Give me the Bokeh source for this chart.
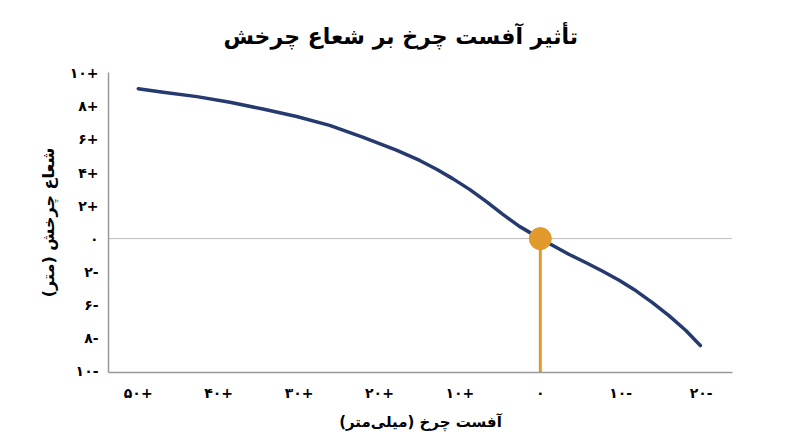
from bokeh.plotting import figure
from bokeh.models import Range1d, FixedTicker
from bokeh.embed import file_html
from bokeh.resources import INLINE

# wheel offset (mm) and turning radius (in tick-step units)
offsets = [50.0, 46.9, 42.7, 38.6, 34.5, 30.3, 26.2, 22.1, 17.9, 15.0, 12.9, 10.9,
           8.8, 6.7, 4.7, 2.6, 0.0, -1.5, -3.6, -5.7, -7.7, -9.8, -11.9, -13.9,
           -16.0, -18.1, -19.9]
radius = [9.07, 8.85, 8.59, 8.25, 7.84, 7.39, 6.85, 6.14, 5.35, 4.73, 4.20, 3.63,
          2.98, 2.24, 1.48, 0.74, 0.0, -0.40, -0.96, -1.46, -1.96, -2.52, -3.16, -3.86,
          -4.66, -5.56, -6.47]

marker_x = [0]
marker_y = [0]

x_ticks = [50, 40, 30, 20, 10, 0, -10, -20]
x_labels = ["۵۰+", "۴۰+", "۳۰+", "۲۰+", "۱۰+", "۰", "۱۰-", "۲۰-"]
y_ticks = [10, 8, 6, 4, 2, 0, -2, -4, -6, -8]
y_labels = ["۱۰+", "۸+", "۶+", "۴+", "۲+", "۰", "۲-", "۶-", "۸-", "۱۰-"]

title = "تأثیر آفست چرخ بر شعاع چرخش"
x_title = "\u200fآفست چرخ (میلی‌متر)\u200f"
y_title = "\u200fشعاع چرخش (متر)\u200f"

FONT = "DejaVu Sans"
NAVY = "#253a6e"
ORANGE = "#e0992a"

x0, x1 = 53.7, -23.9
p = figure(
    width=800, height=447,
    x_range=Range1d(x0, x1),
    y_range=Range1d(-8.1, 10.05),
    output_backend="svg", toolbar_location=None,
    title=title,
    min_border_left=108, min_border_right=68,
    min_border_top=72, min_border_bottom=75,
)
p.outline_line_color = None
p.grid.grid_line_color = None
p.background_fill_color = "white"

p.title.align = "left"
p.title.offset = 115
p.title.standoff = 44
p.title.vertical_align = "top"
p.title.text_font = FONT
p.title.text_font_size = "22px"
p.title.text_font_style = "bold"
p.title.text_color = "black"

# zero line
p.line([x0, x1], [0, 0], color="#bbbbbb", line_width=1)

p.line(offsets, radius, color=NAVY, line_width=3.5, line_cap="round", line_join="round")

p.segment(x0=marker_x, y0=marker_y, x1=marker_x, y1=[p.y_range.start] * len(marker_x),
          color=ORANGE, line_width=3)
p.scatter(marker_x, marker_y, size=22, color=ORANGE)

p.xaxis.ticker = FixedTicker(ticks=x_ticks)
p.xaxis.major_label_overrides = {t: l for t, l in zip(x_ticks, x_labels)}
p.yaxis.ticker = FixedTicker(ticks=y_ticks)
p.yaxis.major_label_overrides = {t: l for t, l in zip(y_ticks, y_labels)}

for ax in (p.xaxis, p.yaxis):
    ax.axis_line_color = "#999999"
    ax.axis_line_width = 1.5
    ax.major_tick_line_color = None
    ax.minor_tick_line_color = None
    ax.major_tick_out = 0
    ax.minor_tick_out = 0
    ax.major_label_text_font = FONT
    ax.major_label_text_font_size = "14px"
    ax.major_label_text_font_style = "bold"
    ax.major_label_text_color = "black"
    ax.axis_label_text_font = FONT
    ax.axis_label_text_font_style = "bold"
    ax.axis_label_text_color = "black"

p.xaxis.axis_label = x_title
p.yaxis.axis_label = y_title
p.xaxis.axis_label_text_font_size = "15px"
p.yaxis.axis_label_text_font_size = "16px"
p.xaxis.major_label_standoff = 12
p.yaxis.major_label_standoff = 10
p.xaxis.axis_label_standoff = 9
p.yaxis.axis_label_standoff = 9

open("out.html", "w").write(file_html(p, INLINE))
